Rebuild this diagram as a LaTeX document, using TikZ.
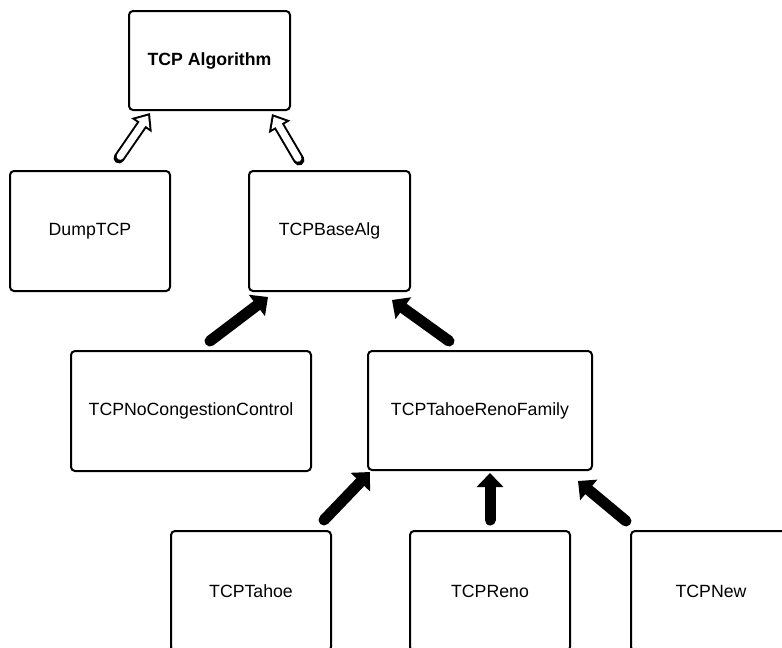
\documentclass[tikz,border=0pt]{standalone}
\usepackage{fontspec}
\setmainfont{Liberation Sans}
\usetikzlibrary{arrows.meta}

\tikzset{
  classbox/.style={draw=black, line width=2pt, rounded corners=4pt, fill=white,
    inner sep=0pt, font=\fontsize{17.7}{21}\selectfont},
  solidarrow/.style={line width=11pt, line cap=round, -{Triangle[width=26pt,length=14pt]}},
  hollowout/.style={line width=11pt, line cap=round, -{Triangle[width=24pt,length=15pt]}},
  hollowin/.style={draw=white, line width=7pt, line cap=round, shorten <=2pt, shorten >=3.2pt,
    -{Triangle[width=15.7pt,length=9.8pt]}},
}

\begin{document}
\begin{tikzpicture}[x=1pt, y=-1pt]
\useasboundingbox (0,0) rectangle (782,648);
\clip (0,0) rectangle (782,648);
\fill[white] (0,0) rectangle (782,648);

% class boxes
\node[classbox, minimum width=161pt, minimum height=99pt, font=\fontsize{17.7}{21}\selectfont\bfseries]
  (alg) at (209.5,60.5) {TCP Algorithm};
\node[classbox, minimum width=160pt, minimum height=120pt] (dump) at (90,231) {DumpTCP};
\node[classbox, minimum width=161pt, minimum height=120pt] (base) at (329.5,231) {TCPBaseAlg};
\node[classbox, minimum width=240pt, minimum height=120pt] (nocc) at (191,411) {TCPNoCongestionControl};
\node[classbox, minimum width=224pt, minimum height=119pt] (trf) at (480,410.5) {TCPTahoeRenoFamily};
\node[classbox, minimum width=160pt, minimum height=120pt] (tahoe) at (251,591) {TCPTahoe};
\node[classbox, minimum width=160pt, minimum height=120pt] (reno) at (490,591) {TCPReno};
\node[classbox, minimum width=160pt, minimum height=120pt] (new) at (711,591) {TCPNew};

% arrow end points
\coordinate (dumpT) at (119,158);  \coordinate (dumpH) at (150,113);
\coordinate (baseT) at (299,160);  \coordinate (baseH) at (272,114);
\coordinate (noccT) at (210,341);  \coordinate (noccH) at (268,297);
\coordinate (trfT)  at (449,341);  \coordinate (trfH)  at (392,300);
\coordinate (tahT)  at (324,520);  \coordinate (tahH)  at (370,472);
\coordinate (renT)  at (490,520);  \coordinate (renH)  at (490,473);
\coordinate (newT)  at (626,521);  \coordinate (newH)  at (578,481);

% hollow generalisation arrows
\draw[hollowout] (dumpT) -- (dumpH);
\draw[hollowin]  (dumpT) -- (dumpH);
\draw[hollowout] (baseT) -- (baseH);
\draw[hollowin]  (baseT) -- (baseH);

% solid inheritance arrows
\draw[solidarrow] (noccT) -- (noccH);
\draw[solidarrow] (trfT) -- (trfH);
\draw[solidarrow] (tahT) -- (tahH);
\draw[solidarrow] (renT) -- (renH);
\draw[solidarrow] (newT) -- (newH);
\end{tikzpicture}
\end{document}
